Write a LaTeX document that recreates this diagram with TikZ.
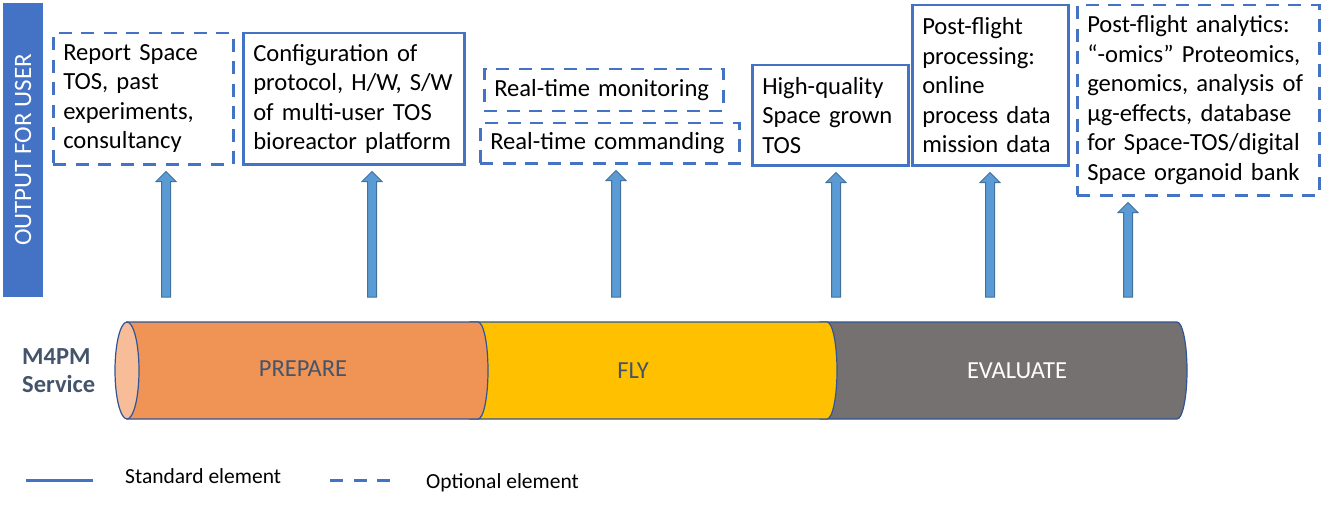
\documentclass[tikz,border=0pt]{standalone}
\usepackage{fontspec}
\setmainfont{Carlito}
\usetikzlibrary{calc}
\definecolor{accent}{HTML}{4472C4}
\definecolor{arrfill}{HTML}{5B9BD5}
\definecolor{arrline}{HTML}{41719C}
\definecolor{slate}{HTML}{44546A}
\definecolor{prep}{HTML}{F09456}
\definecolor{prepface}{HTML}{F7BD98}
\definecolor{flyc}{HTML}{FFC000}
\definecolor{evalc}{HTML}{767171}
\definecolor{cylline}{HTML}{2F5597}
\begin{document}
\begin{tikzpicture}[x=1pt,y=1pt,
  boxtext/.style={font=\fontsize{24.6}{29.5}\selectfont, align=left, inner xsep=10pt, inner ysep=0pt, text=black, anchor=north west},
  solidbox/.style={boxtext, draw=accent, line width=2.5pt},
  dashbox/.style={boxtext, draw=accent, line width=2.5pt, dash pattern=on 13pt off 9.5pt},
  upar/.style={fill=arrfill, draw=arrline, line width=1pt, line join=miter},
  seg/.style={draw=cylline, line width=1.2pt},
  phase/.style={font=\fontsize{24.5}{28}\selectfont},
  legtext/.style={font=\fontsize{21.5}{25}\selectfont, anchor=base west, inner sep=0pt},
]
\useasboundingbox (0,0) rectangle (1321,507);

% side bar
\node (outbar) [fill=accent, text=white, rotate=90, minimum width=294pt, minimum height=40pt, inner sep=0pt,
  font=\fontsize{25}{29}\selectfont] at (23,357) {OUTPUT FOR USER};

% output boxes
\node (b1) [dashbox, text width=160pt, minimum height=131pt] at (52,475)
  {Report Space\\TOS, past\\experiments,\\consultancy};
\node (b2) [solidbox, text width=201pt, minimum height=131pt] at (242,475)
  {Configuration of\\protocol, H/W, S/W\\of multi-user TOS\\bioreactor platform};
\node (b3) [dashbox, text width=219pt, minimum height=42pt] at (483,439)
  {Real-time monitoring};
\node (b4) [dashbox, text width=239pt, minimum height=40pt] at (479,385)
  {Real-time commanding};
\node (b5) [solidbox, text width=136pt, minimum height=100pt] at (751,443)
  {High-quality\\Space grown\\TOS};
\node (b6) [solidbox, text width=136pt, minimum height=160pt] at (911,503)
  {Post-flight\\processing:\\online\\process data\\mission data};
\node (b7) [dashbox, text width=222pt, minimum height=190pt] at (1076,503)
  {Post-flight analytics:\\“-omics” Proteomics,\\genomics, analysis of\\µg-effects, database\\for Space-TOS/digital\\Space organoid bank};

% arrow origins
\coordinate (a1) at (166,210);
\coordinate (a2) at (372,210);
\coordinate (a3) at (616,210);
\coordinate (a4) at (836,210);
\coordinate (a5) at (990,210);
\coordinate (a6) at (1128,210);

\foreach \a/\b in {a1/b1,a2/b2,a3/b4,a4/b5,a5/b6,a6/b7}{
  \draw[upar] let \p1=(\a), \p2=(\b.south) in
    (\x1-4.5pt,\y1) -- (\x1-4.5pt,\y2-16pt) -- (\x1-10pt,\y2-16pt) -- (\x1,\y2-6pt)
    -- (\x1+10pt,\y2-16pt) -- (\x1+4.5pt,\y2-16pt) -- (\x1+4.5pt,\y1) -- cycle;
}

% cylinder
\draw[seg, fill=evalc] (820,185) -- (1177,185) arc[start angle=90,end angle=-90,x radius=10,y radius=48.5] -- (820,88) -- cycle;
\draw[seg, fill=flyc] (470,185) -- (827,185) arc[start angle=90,end angle=-90,x radius=10,y radius=48.5] -- (470,88) -- cycle;
\draw[seg, fill=prep] (127,185) -- (478,185) arc[start angle=90,end angle=-90,x radius=10,y radius=48.5] -- (127,88) -- cycle;
\draw[seg, fill=prepface] (127,136.5) ellipse [x radius=12, y radius=48.5];

\node (prepare) [phase, text=slate] at (303,138) {PREPARE};
\node (fly) [phase, text=slate] at (633,136) {FLY};
\node (evaluate) [phase, text=white] at (1017,136) {EVALUATE};

\node (m4pm) [font=\bfseries\fontsize{24.5}{28}\selectfont, text=slate, align=left, anchor=west, inner sep=0pt] at (22,136) {M4PM\\Service};

% legend
\draw[accent, line width=3pt] (26,27) -- (93,27);
\draw[accent, line width=3pt, dash pattern=on 13pt off 10.5pt] (330,27) -- (390,27);
\node (std) [legtext] at (125,24) {Standard element};
\node (opt) [legtext] at (426,19) {Optional element};
\end{tikzpicture}
\end{document}
